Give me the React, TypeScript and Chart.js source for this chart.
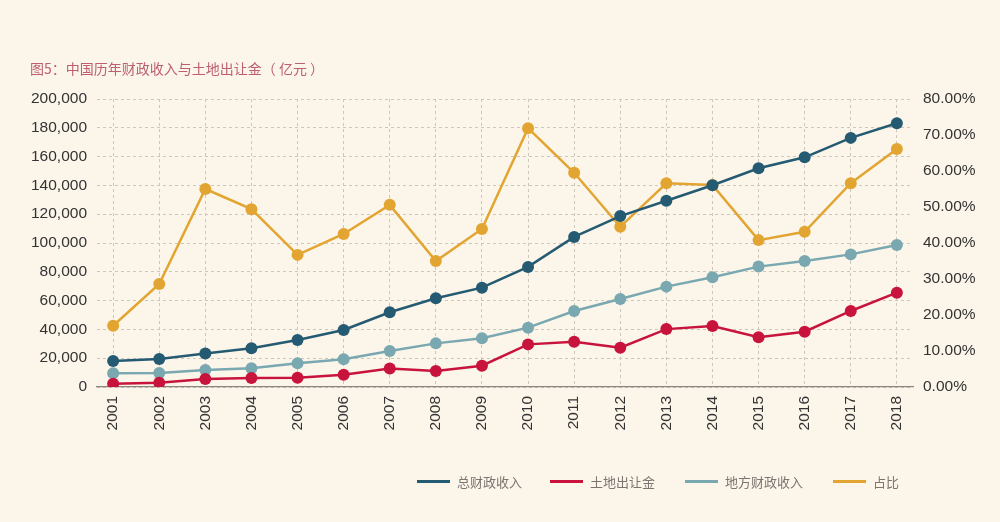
import React, { useEffect, useRef } from "react";
import { Chart, registerables } from "chart.js";

Chart.register(...registerables);

const years = [2001, 2002, 2003, 2004, 2005, 2006, 2007, 2008, 2009, 2010, 2011, 2012, 2013, 2014, 2015, 2016, 2017, 2018];
const totalRevenue = [18000, 19400, 23200, 26900, 32600, 39600, 51900, 61600, 69000, 83400, 104200, 118700, 129300, 140100, 151900, 159500, 173000, 183200];
const landSales = [2300, 3000, 5600, 6200, 6500, 8500, 12800, 11100, 14800, 29600, 31500, 27300, 40200, 42400, 34500, 38400, 52800, 65500];
const localRevenue = [9500, 9700, 11800, 13000, 16500, 19200, 25000, 30300, 33800, 41200, 52800, 61100, 69700, 76200, 83600, 87500, 92100, 98600];
const shareRatio = [0.17, 0.286, 0.55, 0.494, 0.367, 0.425, 0.506, 0.35, 0.439, 0.719, 0.595, 0.445, 0.566, 0.561, 0.408, 0.431, 0.566, 0.661];
const seriesNames = ["总财政收入", "土地出让金", "地方财政收入", "占比"];
const seriesColors = ["#245a72", "#c8143c", "#7aa8b0", "#e3a531"];
const titleText = "图5：中国历年财政收入与土地出让金（ 亿元 ）";

const BG = "#fcf5ea";
const GRID = "#cfc6bb";

export default function App() {
  const ref = useRef<HTMLCanvasElement | null>(null);

  useEffect(() => {
    document.body.style.margin = "0";
    document.body.style.background = BG;
    const canvas = ref.current;
    if (!canvas) return;
    const mk = (vals: number[]) => years.map((y, i) => ({ x: y, y: vals[i] }));
    const ds = (i: number, vals: number[], axis: string) => ({
      label: seriesNames[i],
      data: mk(vals),
      yAxisID: axis,
      borderColor: seriesColors[i],
      backgroundColor: seriesColors[i],
      pointBackgroundColor: seriesColors[i],
      pointBorderColor: seriesColors[i],
      borderWidth: 2.5,
      pointRadius: 6,
      pointBorderWidth: 0,
      tension: 0,
    });
    const chart = new Chart(canvas, {
      type: "line",
      data: {
        datasets: [
          ds(0, totalRevenue, "y"),
          ds(1, landSales, "y"),
          ds(2, localRevenue, "y"),
          ds(3, shareRatio, "y1"),
        ],
      },
      options: {
        animation: false,
        responsive: false,
        layout: { padding: { top: 99, left: 0, right: 0, bottom: 0 } },
        plugins: { legend: { display: false }, tooltip: { enabled: false } },
        scales: {
          x: {
            type: "linear",
            min: 2000.65,
            max: 2018.35,
            afterBuildTicks: (scale: any) => {
              scale.ticks = years.map((v) => ({ value: v }));
            },
            afterFit: (scale: any) => {
              scale.height = 135;
            },
            ticks: {
              autoSkip: false,
              maxRotation: 90,
              minRotation: 90,
              padding: 9,
              color: "#333",
              font: { family: "Liberation Sans, Arial, sans-serif", size: 15.5 },
              callback: (v: any) => String(v),
            },
            grid: { color: GRID, lineWidth: 1, drawTicks: false },
            border: { display: true, color: "#8a8580", width: 1.2, dash: [3, 3] },
          },
          y: {
            position: "left",
            min: 0,
            max: 200000,
            afterFit: (scale: any) => {
              scale.width = 97;
            },
            ticks: {
              stepSize: 20000,
              padding: 10,
              color: "#333",
              font: { family: "Liberation Sans, Arial, sans-serif", size: 15.5 },
              callback: (v: any) => Number(v).toLocaleString("en-US"),
            },
            grid: { color: GRID, lineWidth: 1, drawTicks: false },
            border: { display: false, dash: [3, 3] },
          },
          y1: {
            position: "right",
            min: 0,
            max: 0.8,
            afterFit: (scale: any) => {
              scale.width = 87;
            },
            ticks: {
              stepSize: 0.1,
              padding: 10,
              color: "#333",
              font: { family: "Liberation Sans, Arial, sans-serif", size: 15.5 },
              callback: (v: any) => (Number(v) * 100).toFixed(2) + "%",
            },
            grid: { display: false, drawTicks: false },
            border: { display: false },
          },
        },
      },
    } as any);
    return () => chart.destroy();
  }, []);

  const legendX = [417, 550, 685, 833];

  return (
    <div style={{ position: "relative", width: 1000, height: 522, background: BG, overflow: "hidden" }}>
      <canvas ref={ref} width={1000} height={522} style={{ position: "absolute", left: 0, top: 0 }} />
      <div
        style={{
          position: "absolute",
          left: 30,
          top: 58,
          fontFamily: "'Noto Sans CJK SC', sans-serif",
          fontSize: 14,
          lineHeight: "20px",
          color: "#bd5f6f",
          whiteSpace: "nowrap",
        }}
      >
        {titleText}
      </div>
      {seriesNames.map((name, i) => (
        <div
          key={name}
          style={{
            position: "absolute",
            left: legendX[i],
            top: 471,
            height: 20,
            display: "flex",
            alignItems: "center",
            whiteSpace: "nowrap",
          }}
        >
          <div style={{ width: 33, height: 3, background: seriesColors[i], marginRight: 7 }} />
          <span
            style={{
              fontFamily: "'Noto Sans CJK SC', sans-serif",
              fontSize: 13,
              color: "#7a7570",
            }}
          >
            {name}
          </span>
        </div>
      ))}
    </div>
  );
}
